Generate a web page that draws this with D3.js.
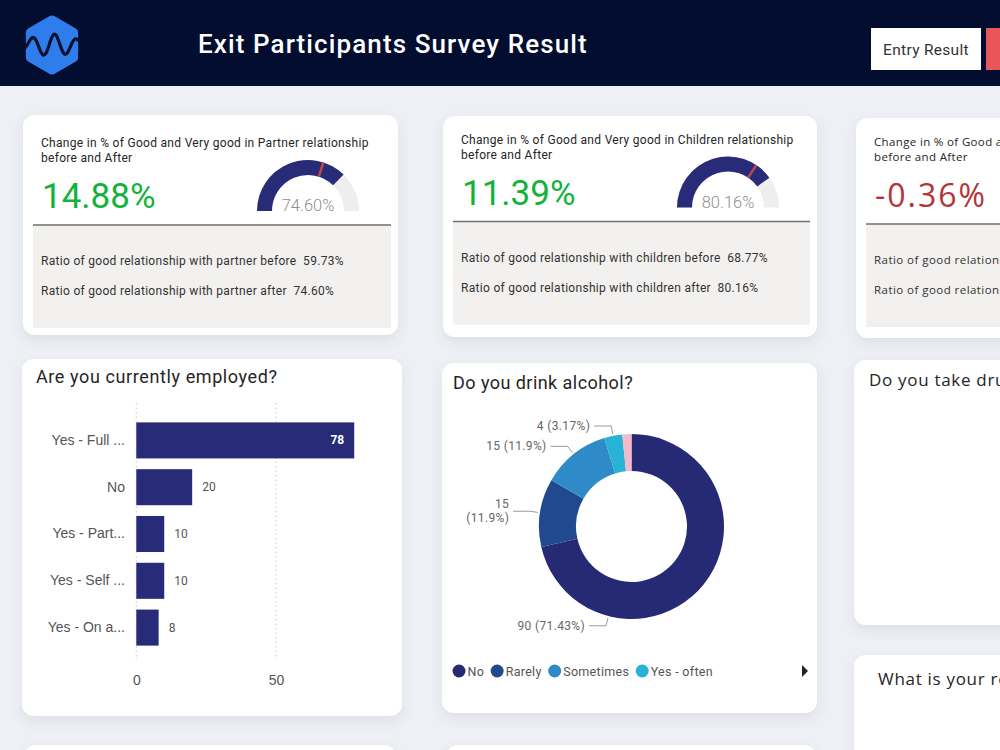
<!DOCTYPE html>
<html>
<head>
<meta charset="utf-8">
<script src="https://cdn.jsdelivr.net/npm/d3@7"></script>
<style>
  body { margin: 0; background: #eef0f5; }
  svg { display: block; font-family: Roboto, "DejaVu Sans", sans-serif; }
</style>
</head>
<body>
<svg id="dash" width="1000" height="750"></svg>
<script>
// ---- data ----
const relNames = ["partner", "children", "family"]
const relTitles = ["Partner", "Children", "Family"]
const relChange = [14.88, 11.39, -0.36]
const relBefore = [59.73, 68.77, null]
const relAfter = [74.60, 80.16, null]

const empLabels = ["Yes - Full ...", "No", "Yes - Part...", "Yes - Self ...", "Yes - On a..."]
const empCounts = [78, 20, 10, 10, 8]
const empTicks = [0, 50]

const alcLabels = ["No", "Rarely", "Sometimes", "Yes - often", "Yes - daily"]
const alcCounts = [90, 15, 15, 4, 2]
const alcColors = ["#262a74", "#21498f", "#2f8bc8", "#27b2d6", "#f6b9cb"]

const NAVY = "#272b78"
const svg = d3.select("#dash")

// soft card shadow
const defs = svg.append("defs")
defs.append("filter").attr("id", "shadow")
    .attr("x", "-10%").attr("y", "-10%").attr("width", "120%").attr("height", "130%")
    .append("feDropShadow")
    .attr("dx", 0).attr("dy", 5).attr("stdDeviation", 6)
    .attr("flood-color", "#5a6070").attr("flood-opacity", 0.12)

function card(x, y, w, h) {
    return svg.append("rect")
        .attr("x", x).attr("y", y).attr("width", w).attr("height", h)
        .attr("rx", 12).attr("fill", "#fff")
        .attr("filter", "url(#shadow)")
}

// ---- header ----
svg.append("rect").attr("width", 1000).attr("height", 86).attr("fill", "#030d2f")
const hexPts = d3.range(6).map(i => {
    const a = -Math.PI / 2 + i * Math.PI / 3
    return [52 + 25 * Math.cos(a), 45 + 25 * Math.sin(a)]
})
svg.append("path")
    .attr("d", d3.line().curve(d3.curveLinearClosed)(hexPts))
    .attr("fill", "#2f7cec").attr("stroke", "#2f7cec")
    .attr("stroke-width", 9).attr("stroke-linejoin", "round")
// logo wave (icon decoration)
const wave = d3.range(0, 1.001, 0.02).map(t => [25 + t * 55, 45 - Math.sin(t * Math.PI * 5 - 0.6) * (5 + 6 * Math.sin(t * Math.PI))])
svg.append("path")
    .attr("d", d3.line().curve(d3.curveBasis)(wave))
    .attr("fill", "none").attr("stroke", "#0b1230").attr("stroke-width", 3.2)
    .attr("stroke-linecap", "round")

svg.append("text").attr("x", 198).attr("y", 53)
    .attr("fill", "#fff").attr("font-size", 26).attr("font-weight", 500)
    .attr("letter-spacing", 1.1)
    .text("Exit Participants Survey Result")

svg.append("rect").attr("x", 871).attr("y", 28).attr("width", 110).attr("height", 42).attr("fill", "#fff")
svg.append("text").attr("x", 926).attr("y", 55).attr("text-anchor", "middle")
    .attr("fill", "#333").attr("font-size", 15.5).attr("letter-spacing", 0.3).text("Entry Result")
svg.append("rect").attr("x", 986).attr("y", 28).attr("width", 30).attr("height", 42).attr("fill", "#e8555b")

// ---- relationship KPI cards ----
const kpiBoxes = [
    {x: 23, y: 115, w: 375, h: 220, dy: 0, fam: null},
    {x: 443, y: 116, w: 374, h: 221, dy: -4.5, fam: null},
    {x: 856, y: 118, w: 375, h: 220, dy: -4, fam: "'Open Sans', sans-serif"}
]
const gaugeArc = d3.arc().innerRadius(36).outerRadius(51)
const gaugeAngle = d3.scaleLinear().domain([0, 100]).range([-Math.PI / 2, Math.PI / 2])
const pct2 = d3.format(".2f")

kpiBoxes.forEach((b, i) => {
    card(b.x, b.y, b.w, b.h)
    const g = svg.append("g").attr("transform", `translate(${b.x},${b.y + b.dy})`)
    if (b.fam) g.style("font-family", b.fam)
    const t = g.append("text").attr("font-size", b.fam ? 11.5 : 12).attr("fill", "#252525")
        .attr("letter-spacing", b.fam ? 0.35 : 0.3)
    t.append("tspan").attr("x", 18).attr("y", 32)
        .text(`Change in % of Good and Very good in ${relTitles[i]} relationship`)
    t.append("tspan").attr("x", 18).attr("y", 47).text("before and After")

    const chg = relChange[i]
    g.append("text").attr("x", 19).attr("y", 93)
        .attr("font-size", b.fam ? 32 : 35)
        .attr("letter-spacing", b.fam ? 2 : 0)
        .attr("fill", chg >= 0 ? "#12b33a" : "#b3353a")
        .text(pct2(chg).replace("\u2212", "-") + "%")

    // gauge
    if (relAfter[i] != null) {
        const gg = g.append("g").attr("transform", "translate(285,96)")
        gg.append("path").attr("fill", "#eeeeee")
            .attr("d", gaugeArc({startAngle: gaugeAngle(0), endAngle: gaugeAngle(100)}))
        gg.append("path").attr("fill", NAVY)
            .attr("d", gaugeArc({startAngle: gaugeAngle(0), endAngle: gaugeAngle(relAfter[i])}))
        const a = gaugeAngle(relBefore[i])
        gg.append("line")
            .attr("x1", 36 * Math.sin(a)).attr("y1", -36 * Math.cos(a))
            .attr("x2", 51 * Math.sin(a)).attr("y2", -51 * Math.cos(a))
            .attr("stroke", "#c0464b").attr("stroke-width", 2.5)
        gg.append("text").attr("y", 0).attr("text-anchor", "middle")
            .attr("font-size", 16.5).attr("font-weight", 300).attr("fill", "#8f8f8f")
            .text(pct2(relAfter[i]) + "%")
    }

    // before / after panel
    g.append("rect").attr("x", 10).attr("y", 110).attr("width", b.w - 17).attr("height", 103).attr("fill", "#f2f1f0")
    g.append("line").attr("x1", 10).attr("x2", b.w - 7).attr("y1", 110).attr("y2", 110)
        .attr("stroke", "#6f6f6f").attr("stroke-width", 1.5)
    const rows = [["before", relBefore[i]], ["after", relAfter[i]]]
    rows.forEach((r, k) => {
        g.append("text").attr("x", 18).attr("y", 150 + k * 30)
            .attr("font-size", b.fam ? 11.5 : 12).attr("fill", "#333")
            .attr("letter-spacing", b.fam ? 0.45 : 0.3)
            .attr("xml:space", "preserve")
            .text(`Ratio of good relationship with ${relNames[i]} ${r[0]}` + (r[1] != null ? `  ${pct2(r[1])}%` : ""))
    })
})

// ---- employment bar chart ----
card(22, 359, 380, 357)
svg.append("text").attr("x", 36).attr("y", 383)
    .attr("font-size", 18).attr("letter-spacing", 0.6).attr("fill", "#252525").text("Are you currently employed?")

const x = d3.scaleLinear().domain([0, 85]).range([136.3, 136.3 + 85 * 2.794])
const y = d3.scaleBand().domain(empLabels).range([417, 651]).paddingInner(0.23).paddingOuter(0.115)

const bars = svg.append("g")
bars.selectAll("line.grid").data(empTicks).join("line")
    .attr("x1", d => x(d)).attr("x2", d => x(d))
    .attr("y1", 403).attr("y2", 660)
    .attr("stroke", "#c8c8c8").attr("stroke-dasharray", "1.5,3")

const xAxis = svg.append("g").attr("transform", "translate(0,669)")
    .call(d3.axisBottom(x).tickValues(empTicks).tickSize(0).tickPadding(6))
xAxis.select(".domain").remove()
xAxis.selectAll("text").attr("font-size", 14).attr("fill", "#555").style("font-family", "inherit")

const yAxis = svg.append("g").attr("transform", "translate(125,0)")
    .call(d3.axisLeft(y).tickSize(0).tickPadding(0))
yAxis.select(".domain").remove()
yAxis.selectAll("text").attr("font-size", 14).attr("fill", "#555").style("font-family", "inherit")

bars.selectAll("rect").data(empCounts).join("rect")
    .attr("x", x(0)).attr("y", (d, i) => y(empLabels[i]))
    .attr("width", d => x(d) - x(0)).attr("height", y.bandwidth())
    .attr("fill", NAVY)
bars.selectAll("text.val").data(empCounts).join("text")
    .attr("class", "val")
    .attr("y", (d, i) => y(empLabels[i]) + y.bandwidth() / 2 + 4)
    .attr("x", d => d > 50 ? x(d) - 10 : x(d) + 10)
    .attr("text-anchor", d => d > 50 ? "end" : "start")
    .attr("font-size", 12)
    .attr("font-weight", d => d > 50 ? 700 : 400)
    .attr("fill", d => d > 50 ? "#fff" : "#555")
    .text(d => d)

// ---- alcohol donut ----
const donutBox = {x: 442, y: 363, w: 375, h: 350}
card(donutBox.x, donutBox.y, donutBox.w, donutBox.h)
svg.append("text").attr("x", 453).attr("y", 389)
    .attr("font-size", 18).attr("letter-spacing", 0.45).attr("fill", "#252525").text("Do you drink alcohol?")

const cx = 631.5, cy = 526.5, R = 92.5
const total = d3.sum(alcCounts)
const pie = d3.pie().sort(null).value(d => d)
const arcs = pie(alcCounts)
const arc = d3.arc().innerRadius(55.5).outerRadius(R)
const donut = svg.append("g").attr("transform", `translate(${cx},${cy})`)
donut.selectAll("path").data(arcs).join("path")
    .attr("d", arc).attr("fill", (d, i) => alcColors[i])

const pctFmt = d3.format(".2~f")
// label anchor angle: the big slice's label is placed at the lower-left like the report does
const labelAngle = d => (d.startAngle < Math.PI && d.endAngle > Math.PI) ? Math.PI * 1.08 : (d.startAngle + d.endAngle) / 2
const labelled = arcs.filter(d => d.value / total > 0.02)
labelled.forEach(d => {
    const a = labelAngle(d)
    const p0 = [(R + 2) * Math.sin(a), -(R + 2) * Math.cos(a)]
    const p1 = [(R + 10) * Math.sin(a), -(R + 10) * Math.cos(a)]
    const p2 = [p1[0] - 17, p1[1]]
    donut.append("polyline")
        .attr("points", [p0, p1, p2].map(p => p.join(",")).join(" "))
        .attr("fill", "none").attr("stroke", "#9a9a9a").attr("stroke-width", 1)
    const label = `${d.value} (${pctFmt(d.value / total * 100)}%)`
    const tx = p2[0] - 4
    const txt = donut.append("text").attr("text-anchor", "end")
        .attr("font-size", 12).attr("letter-spacing", 0.35).attr("fill", "#666")
    if (cx + tx - 66 < donutBox.x + 15) {
        txt.append("tspan").attr("x", tx).attr("y", p2[1] - 3).text(d.value)
        txt.append("tspan").attr("x", tx).attr("y", p2[1] + 11).text(`(${pctFmt(d.value / total * 100)}%)`)
    } else {
        txt.attr("x", tx).attr("y", p2[1] + 4).text(label)
    }
})

// legend (first four entries visible, rest paged)
const legend = svg.append("g").attr("transform", "translate(0,671)")
let lx = 459
alcLabels.slice(0, 4).forEach((name, i) => {
    legend.append("circle").attr("cx", lx).attr("cy", 0).attr("r", 6.5).attr("fill", alcColors[i])
    const t = legend.append("text").attr("x", lx + 8.5).attr("y", 4.5)
        .attr("font-size", 12.5).attr("fill", "#555").attr("letter-spacing", 0.3).text(name)
    lx += 8.5 + t.node().getComputedTextLength() + 13
})
legend.append("path").attr("d", "M802,-6 L808,0 L802,6 Z").attr("fill", "#222")

// ---- right column & lower cards (cut off by the viewport) ----
card(854, 360, 200, 265)
svg.append("text").attr("x", 869).attr("y", 386)
    .style("font-family", "'Open Sans', sans-serif").attr("letter-spacing", 0.7)
    .attr("font-size", 17).attr("fill", "#252525").text("Do you take drugs?")
card(854, 655, 200, 150)
svg.append("text").attr("x", 878).attr("y", 685)
    .style("font-family", "'Open Sans', sans-serif").attr("letter-spacing", 0.7)
    .attr("font-size", 17).attr("fill", "#252525").text("What is your religion?")
card(24, 745, 372, 60)
card(446, 745, 370, 60)
</script>
</body>
</html>
